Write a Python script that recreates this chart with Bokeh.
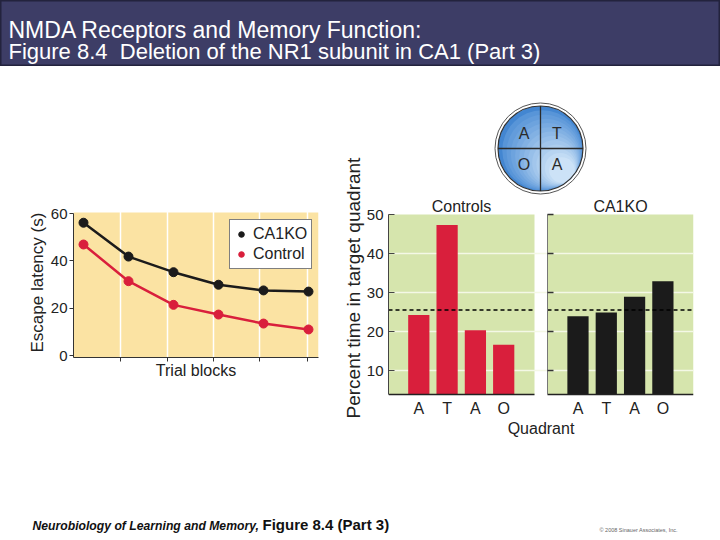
from bokeh.plotting import figure
from bokeh.layouts import column, row
from bokeh.models import Range1d, FixedTicker, Label, Legend, LegendItem, Title
from bokeh.core.properties import value
from bokeh.embed import file_html
from bokeh.resources import INLINE

FONT = "Liberation Sans"

# ---------------- data ----------------
trial_blocks = [1, 2, 3, 4, 5, 6]
latency_ca1ko = [56.1, 41.8, 35.2, 29.9, 27.5, 27.0]
latency_control = [46.9, 31.4, 21.4, 17.3, 13.5, 11.0]
latency_ticks = [0, 20, 40, 60]
block_ticks = [1.82, 2.87, 3.89, 4.91, 5.97]

quadrants = ["A", "T", "A", "O"]
pct_controls = [24.2, 47.3, 20.3, 16.6]
pct_ca1ko = [23.9, 24.9, 28.9, 32.9]
pct_ticks = [10, 20, 30, 40, 50]
chance_level = 25.5
maze_quadrants = ["A", "T", "O", "A"]

title_lines = ["NMDA Receptors and Memory Function:",
               "Figure 8.4\u00a0 Deletion of the NR1 subunit in CA1 (Part 3)"]

# ---------------- colours ----------------
BAR = "#3d3d66"
YELLOW = "#fbe3a3"
GREEN = "#d6e5ad"
RED = "#d91f3c"
BLACK = "#1b1b1b"
TXT = "#222222"

# ---------------- title bar (page y 0..66) ----------------
tb = figure(width=720, height=66, x_range=Range1d(0, 720), y_range=Range1d(66, 0),
            toolbar_location=None, output_backend="svg", x_axis_location=None,
            y_axis_location=None, min_border=0, title=None)
tb.background_fill_color = BAR
tb.border_fill_color = BAR
tb.outline_line_color = "#23233d"
tb.outline_line_width = 2
tb.grid.visible = False
tb.text(x=[8, 8], y=[29.5, 51], text=title_lines, text_color="white",
        text_font=value(FONT), text_font_size=["23px", "22px"], text_baseline="alphabetic")

# ---------------- panel D (page x 0..335) ----------------
D_FL, D_PX = 73.0, 45.0          # frame left (page px), px per block
D_Y0, D_PY = 355.0, 142.0 / 60   # page y of 0 s, px per second
def dx(px): return 1 - (83 - D_FL) / D_PX + (px - D_FL) / D_PX
def dy(py): return (D_Y0 - py) / D_PY

D_TOP, D_BOT = 95, 357
d = figure(width=335, height=405, x_range=Range1d(dx(73), dx(318)),
           y_range=Range1d(dy(D_BOT), dy(D_TOP)), toolbar_location=None,
           output_backend="svg", min_border_left=73, min_border_right=17,
           min_border_top=29, min_border_bottom=114, title=None)
d.outline_line_color = None
d.background_fill_color = "white"
d.quad(left=[d.x_range.start], right=[d.x_range.end], bottom=[d.y_range.start],
       top=[dy(212)], fill_color=YELLOW, line_color=None, level="image")
d.ygrid.visible = False
d.xgrid.ticker = FixedTicker(ticks=block_ticks)
d.xgrid.grid_line_color = "white"
d.xgrid.grid_line_width = 1.5

for ax in (d.xaxis, d.yaxis):
    ax.axis_line_color = "#333333"
    ax.major_tick_line_color = "#333333"
    ax.minor_tick_line_color = None
    ax.major_tick_out = 4
    ax.major_tick_in = 0
    ax.major_label_text_font = FONT
    ax.major_label_text_color = TXT
    ax.axis_label_text_font = FONT
    ax.axis_label_text_font_size = "16px"
    ax.axis_label_text_font_style = "normal"
    ax.axis_label_text_color = TXT
# unlabeled block boundaries: drawn as minor ticks so no tick labels exist
d.xaxis.ticker = FixedTicker(ticks=[], minor_ticks=block_ticks)
d.xaxis.major_tick_out = 0
d.xaxis.minor_tick_line_color = "#333333"
d.xaxis.minor_tick_out = 4
d.xaxis.minor_tick_in = 0
d.xaxis.major_label_standoff = 0
d.xaxis.axis_label = "Trial blocks"
d.xaxis.axis_label_standoff = 0
d.yaxis.ticker = FixedTicker(ticks=latency_ticks)
d.yaxis.bounds = (d.y_range.start, latency_ticks[-1])
d.yaxis.major_label_text_font_size = "15px"
d.yaxis.major_label_standoff = 2
# y-axis title: starts at 352 px and runs upward along the bounded axis
d.add_layout(Title(text="Escape latency (s)", align="left", offset=D_BOT - 352,
                   standoff=2, text_font=FONT, text_font_size="17px",
                   text_font_style="normal", text_color=TXT), "left")

d.line(trial_blocks, latency_ca1ko, line_color=BLACK, line_width=2.5)
d.line(trial_blocks, latency_control, line_color=RED, line_width=2.5)
r_ko = d.scatter(trial_blocks, latency_ca1ko, size=9, fill_color=BLACK, line_color=BLACK)
r_ct = d.scatter(trial_blocks, latency_control, size=9, fill_color=RED, line_color=RED)

legend = Legend(items=[LegendItem(label="CA1KO", renderers=[r_ko]),
                       LegendItem(label="Control", renderers=[r_ct])],
                location=(156, 88), border_line_color="black", border_line_width=1,
                padding=4, spacing=0, margin=0, glyph_width=14, glyph_height=20,
                label_height=20, label_standoff=5, label_text_font=FONT,
                label_text_font_size="16px", label_text_color=TXT,
                background_fill_color="white", background_fill_alpha=1)
d.add_layout(legend)
d.add_layout(Label(x=dx(28), y=dy(175), text="(D)", text_font=FONT,
                   text_font_size="15px", text_color=TXT))

# ---------------- panel E (page x 335..720) ----------------
E_FL, E_PX = 388.0, 28.3          # frame left (page px), px per bar slot
E_Y10, E_PY = 370.0, 3.9          # page y of 10 %, px per %
def ex(px): return 1 - (418.3 - E_FL) / E_PX + (px - E_FL) / E_PX
def ey(py): return 10 + (E_Y10 - py) / E_PY

E_TOP, E_BOT = 95, 396
e = figure(width=385, height=444, x_range=Range1d(ex(388), ex(693)),
           y_range=Range1d(ey(E_BOT), ey(E_TOP)), toolbar_location=None,
           output_backend="svg", min_border_left=53, min_border_right=27,
           min_border_top=29, min_border_bottom=114, title=None)
e.outline_line_color = None
e.background_fill_color = "white"

panel_bottom = ey(394)
left_l, left_r = ex(388), ex(534)
right_l, right_r = ex(547), ex(693)
right_offset = 5.625
ctrl_x = [i + 1 for i in range(len(quadrants))]
ko_x = [i + 1 + right_offset for i in range(len(quadrants))]

e.quad(left=[left_l, right_l], right=[left_r, right_r], bottom=[panel_bottom] * 2,
       top=[pct_ticks[-1]] * 2, fill_color=GREEN, line_color=None, level="image")
e.xgrid.visible = False
e.ygrid.ticker = FixedTicker(ticks=pct_ticks[:-1])
e.ygrid.grid_line_color = "#f4f8e6"
e.ygrid.grid_line_width = 1.5

e.vbar(x=ctrl_x, top=pct_controls, bottom=panel_bottom, width=0.75,
       fill_color=RED, line_color=None)
e.vbar(x=ko_x, top=pct_ca1ko, bottom=panel_bottom, width=0.75,
       fill_color=BLACK, line_color=None)

# chance line and baselines
e.segment(x0=[left_l, right_l], x1=[left_r, right_r], y0=[chance_level] * 2,
          y1=[chance_level] * 2, line_color="black", line_width=1.5, line_dash="4 3")
e.segment(x0=[left_l, right_l], x1=[left_r, right_r], y0=[panel_bottom] * 2,
          y1=[panel_bottom] * 2, line_color="#222222", line_width=1.5)
# right panel inner axis
e.segment(x0=[right_l], x1=[right_l], y0=[panel_bottom], y1=[pct_ticks[-1]],
          line_color="#777777", line_width=1)
e.segment(x0=[right_l] * len(pct_ticks), x1=[right_l + 6 / E_PX] * len(pct_ticks),
          y0=pct_ticks, y1=pct_ticks, line_color="#333333", line_width=1.5)

e.xaxis.ticker = FixedTicker(ticks=ctrl_x + ko_x)
e.xaxis.major_label_overrides = {t: q for t, q in zip(ctrl_x + ko_x, quadrants + quadrants)}
e.xaxis.axis_line_color = None
e.xaxis.major_tick_line_color = None
e.xaxis.minor_tick_line_color = None
e.xaxis.major_tick_out = 0
e.xaxis.major_tick_in = 0
e.xaxis.major_label_standoff = 3
e.xaxis.axis_label = "Quadrant"
e.xaxis.axis_label_standoff = 0
e.yaxis.ticker = FixedTicker(ticks=pct_ticks)
e.yaxis.bounds = (panel_bottom, pct_ticks[-1])
e.yaxis.major_tick_in = 6
e.yaxis.major_tick_out = 0
e.yaxis.minor_tick_line_color = None
e.yaxis.major_label_standoff = 5
for ax in (e.xaxis, e.yaxis):
    ax.major_label_text_font = FONT
    ax.major_label_text_color = TXT
    ax.axis_label_text_font = FONT
    ax.axis_label_text_font_size = "16px"
    ax.axis_label_text_font_style = "normal"
    ax.axis_label_text_color = TXT
e.xaxis.major_label_text_font_size = "16px"
e.yaxis.major_label_text_font_size = "15px"
e.yaxis.axis_line_color = "#444444"
e.yaxis.major_tick_line_color = "#444444"
e.add_layout(Title(text="Percent time in target quadrant", align="left",
                   offset=E_BOT - 418, standoff=0, text_font=FONT,
                   text_font_size="19px", text_font_style="normal",
                   text_color=TXT), "left")

e.text(x=[(left_l + left_r) / 2, (right_l + right_r) / 2], y=[ey(205.5)] * 2,
       text=["Controls", "CA1KO"], text_align="center", text_baseline="alphabetic",
       text_font=value(FONT), text_font_size="16px", text_color=TXT)
e.add_layout(Label(x=ex(342), y=ey(173), text="(E)", text_font=FONT,
                   text_font_size="15px", text_color=TXT))

# water-maze quadrant diagram (decoration)
cx, cy = ex(540), ey(148)
e.scatter([cx], [cy], size=91, marker="circle", fill_color="white",
          line_color="#555555", line_width=1)
e.scatter([cx], [cy], size=85, marker="circle", fill_color="#4386d1",
          line_color=None)
c0, c1 = (78, 142, 214), (204, 226, 247)
n_layers = 12
for k in range(1, n_layers + 1):
    t = k / n_layers
    diam = 85 * (1 - 0.7 * t)
    sh = (85 - diam) / 2 * 0.72
    col = "#%02x%02x%02x" % tuple(int(a + (b - a) * t) for a, b in zip(c0, c1))
    e.scatter([cx + sh / E_PX], [cy - sh / E_PY], size=diam, marker="circle",
              fill_color=col, line_color=None)
e.scatter([cx], [cy], size=85, marker="circle", fill_color=None,
          line_color="#333333", line_width=1.2)
e.scatter([cx], [cy], size=85, marker="cross", line_color="#2a2a2a", line_width=1.3)
e.text(x=[cx] * 4, y=[cy] * 4, text=maze_quadrants, x_offset=[-16.5, 16.5, -16.5, 16.5],
       y_offset=[-15.5, -15.5, 16, 16], text_align="center", text_baseline="middle",
       text_font=value(FONT), text_font_size="16px", text_color="#2a2a2a")

# ---------------- footer (page y 510..540) ----------------
ft = figure(width=720, height=30, x_range=Range1d(0, 720), y_range=Range1d(540, 510),
            toolbar_location=None, output_backend="svg", x_axis_location=None,
            y_axis_location=None, min_border=0, title=None)
ft.outline_line_color = None
ft.grid.visible = False
ft.text(x=[32], y=[532], text=["Neurobiology of Learning and Memory,"],
        text_font=value(FONT), text_font_style="bold italic", text_font_size="12.2px",
        text_color="#111111")
ft.text(x=[262], y=[532], text=["Figure 8.4 (Part 3)"], text_font=value(FONT),
        text_font_style="bold", text_font_size="15px", text_color="#111111")
ft.text(x=[599], y=[532], text=["\u00a9 2008 Sinauer Associates, Inc."],
        text_font=value(FONT), text_font_size="5.5px", text_color="#666666")

layout = column(tb, row(d, e), ft)
open("out.html", "w").write(file_html(layout, INLINE))
